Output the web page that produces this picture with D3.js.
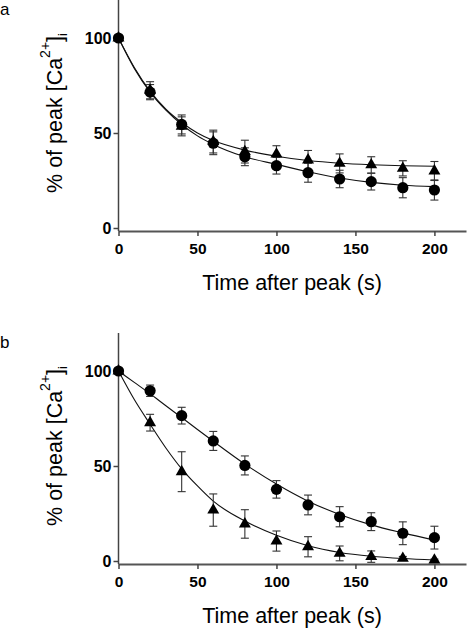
<!DOCTYPE html>
<html>
<head>
<meta charset="utf-8">
<script src="https://cdn.jsdelivr.net/npm/d3@7"></script>
<style>
  html, body { margin: 0; padding: 0; background: #fff; }
  svg { display: block; font-family: "Liberation Sans", Arial, Helvetica, sans-serif; }
</style>
</head>
<body>
<svg id="chart" width="467" height="629"></svg>
<script>
// ---------- data ----------
const times = [0, 20, 40, 60, 80, 100, 120, 140, 160, 180, 200];
const xTicks = [0, 50, 100, 150, 200];
const yTicks = [0, 50, 100];
const panelLabels = ["a", "b"];

// panel a
const aCircle      = [100, 71.5, 54.5, 44.6, 37.5, 32.8, 29.1, 25.8, 24.4, 21.2, 20.0];
const aCircleErr   = [1, 4, 5, 6, 4.7, 4.4, 5, 4.6, 4.4, 5.3, 5.3];
const aTriangle    = [100, 72.5, 53.5, 45.5, 40.2, 38.9, 35.8, 34.0, 33.2, 31.4, 30.0];
const aTriangleErr = [1, 4.5, 5, 6, 6, 4.4, 5, 5, 4.3, 4, 5];

// panel b
const bCircle      = [100, 89.6, 76.5, 63.2, 50.3, 37.7, 29.5, 23.3, 20.7, 14.6, 12.3];
const bCircleErr   = [1, 3, 4.4, 5, 5, 4.6, 5.2, 5.3, 4.7, 6, 6];
const bTriangle    = [100, 72.8, 47.0, 26.8, 19.5, 10.5, 7.5, 4.0, 2.3, 1.4, 0.5];
const bTriangleErr = [1, 4.4, 10.5, 8.5, 7.5, 5.3, 5.3, 3.9, 3, 1, 0.5];

// fitted curves
const fitTimes        = [0, 10, 20, 30, 40, 50, 60, 80, 100, 120, 140, 160, 180, 200];
const aCircleFit      = [100, 84, 71.5, 62, 54.5, 48.5, 44, 37.5, 33.5, 29.6, 26.3, 24, 22.5, 21.8];
const aTriangleFit    = [100, 84.5, 72, 62.5, 55.5, 50, 46, 41, 37.8, 35.5, 34.1, 33.3, 32.8, 32.5];
const bCircleFit      = [100, 94, 88, 81.7, 75.5, 69.2, 63, 51, 40.5, 31.5, 24.5, 19, 14.8, 11];
const bTriangleFit    = [100, 85, 72, 59.5, 48.5, 39.5, 31.5, 21, 13.5, 8, 4.5, 2.5, 1.3, 0.5];

const xTitle = "Time after peak (s)";

// ---------- drawing ----------
const svg = d3.select("#chart");
const x = d3.scaleLinear().domain([0, 220]).range([118.5, 466]);

function drawPanel(top, label, circ, circErr, tri, triErr, circFit, triFit) {
  const g = svg.append("g");
  const y = d3.scaleLinear().domain([0, 120]).range([top + 228, top]);
  const axisY = top + 231;

  // panel letter
  g.append("text").attr("x", 0).attr("y", top + 15).attr("font-size", 17).text(label);

  // y axis
  const ya = g.append("g").attr("transform", `translate(${x(0)},0)`)
    .call(d3.axisLeft(y).tickValues(yTicks).tickSize(5).tickSizeOuter(0).tickPadding(2));
  ya.select(".domain").remove();
  ya.selectAll(".tick line").attr("stroke", "#444").attr("stroke-width", 1.5);
  ya.selectAll(".tick text").attr("font-size", 16).attr("font-weight", "bold")
    .attr("fill", "#000").attr("font-family", "Liberation Sans, Arial, sans-serif");
  g.append("line").attr("x1", x(0)).attr("x2", x(0)).attr("y1", y(120)).attr("y2", axisY)
    .attr("stroke", "#444").attr("stroke-width", 1.5);

  // x axis
  const xa = g.append("g").attr("transform", `translate(0,${axisY})`)
    .call(d3.axisBottom(x).tickValues(xTicks).tickSize(5).tickSizeOuter(0).tickPadding(7));
  xa.select(".domain").attr("stroke", "#555").attr("stroke-width", 2);
  xa.selectAll(".tick line").attr("stroke", "#444").attr("stroke-width", 1.5);
  xa.selectAll(".tick text").attr("font-size", 15.5).attr("font-weight", "bold")
    .attr("fill", "#000").attr("font-family", "Liberation Sans, Arial, sans-serif");

  // x title
  g.append("text").attr("x", 292).attr("y", top + 290).attr("text-anchor", "middle")
    .attr("font-size", 21.5).text(xTitle);

  // y title
  const yt = g.append("text")
    .attr("transform", `translate(62,${top + 113}) rotate(-90)`)
    .attr("text-anchor", "middle").attr("font-size", 21.5);
  yt.append("tspan").text("% of peak [Ca");
  yt.append("tspan").attr("dy", -12).attr("font-size", 14).text("2+");
  yt.append("tspan").attr("dy", 12).text("]");
  yt.append("tspan").attr("dy", 5).attr("font-size", 13).text("i");

  // fitted curves
  const line = d3.line().x((d, i) => x(fitTimes[i])).y(d => y(d)).curve(d3.curveMonotoneX);
  [circFit, triFit].forEach(f => {
    g.append("path").attr("d", line(f)).attr("fill", "none")
      .attr("stroke", "#111").attr("stroke-width", 1.1);
  });

  // error bars
  function errBars(vals, errs) {
    const eg = g.append("g").attr("stroke", "#333").attr("stroke-width", 1.1);
    times.forEach((t, i) => {
      const cx = x(t), y1 = y(vals[i] + errs[i]), y2 = y(vals[i] - errs[i]);
      eg.append("line").attr("x1", cx).attr("x2", cx).attr("y1", y1).attr("y2", y2);
      eg.append("line").attr("x1", cx - 4).attr("x2", cx + 4).attr("y1", y1).attr("y2", y1);
      eg.append("line").attr("x1", cx - 4).attr("x2", cx + 4).attr("y1", y2).attr("y2", y2);
    });
  }
  errBars(circ, circErr);
  errBars(tri, triErr);

  // markers
  const triSym = d3.symbol().type(d3.symbolTriangle).size(62);
  g.append("g").selectAll("path").data(tri).join("path")
    .attr("d", triSym)
    .attr("transform", (d, i) => `translate(${x(times[i])},${y(d)})`)
    .attr("fill", "#000");
  g.append("g").selectAll("circle").data(circ).join("circle")
    .attr("cx", (d, i) => x(times[i])).attr("cy", d => y(d)).attr("r", 5.6)
    .attr("fill", "#000");
}

drawPanel(0, panelLabels[0], aCircle, aCircleErr, aTriangle, aTriangleErr, aCircleFit, aTriangleFit);
drawPanel(333, panelLabels[1], bCircle, bCircleErr, bTriangle, bTriangleErr, bCircleFit, bTriangleFit);
</script>
</body>
</html>
